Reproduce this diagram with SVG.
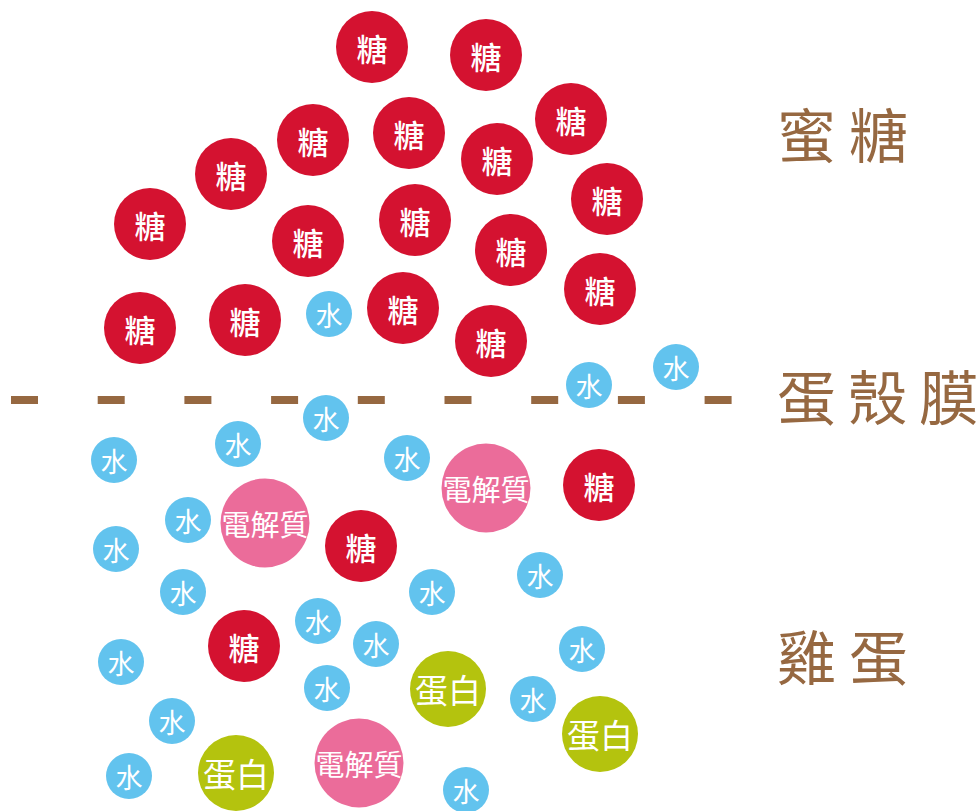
<svg xmlns="http://www.w3.org/2000/svg" width="979" height="811" viewBox="0 0 979 811">
<style>
.s{fill:#D41230}
.w{fill:#62C3EE}
.e{fill:#EB6C9A}
.p{fill:#B4C30E}
text{font-family:"Noto Sans CJK TC","Noto Sans CJK JP",sans-serif;fill:#fff;text-anchor:middle;dominant-baseline:central}
.ts{font-size:31px;font-weight:500}
.tw{font-size:27px}
.te{font-size:29px}
.tp{font-size:33px}
.lab{fill:#966841;font-size:59px;text-anchor:start}
</style>
<rect width="979" height="811" fill="#fff"/>
<g id="membrane"><line x1="11" y1="400" x2="732" y2="400" stroke="#966841" stroke-width="8" stroke-dasharray="27 59.7"/></g>
<g id="sugars-top">
<g id="s1"><circle class="s" cx="372" cy="47" r="36"/><text class="ts" x="372" y="47">糖</text></g>
<g id="s2"><circle class="s" cx="486" cy="55" r="36"/><text class="ts" x="486" y="55">糖</text></g>
<g id="s3"><circle class="s" cx="313" cy="140" r="36"/><text class="ts" x="313" y="140">糖</text></g>
<g id="s4"><circle class="s" cx="409" cy="133" r="36"/><text class="ts" x="409" y="133">糖</text></g>
<g id="s5"><circle class="s" cx="231" cy="174" r="36"/><text class="ts" x="231" y="174">糖</text></g>
<g id="s6"><circle class="s" cx="150" cy="224" r="36"/><text class="ts" x="150" y="224">糖</text></g>
<g id="s7"><circle class="s" cx="308" cy="241" r="36"/><text class="ts" x="308" y="241">糖</text></g>
<g id="s8"><circle class="s" cx="415" cy="220" r="36"/><text class="ts" x="415" y="220">糖</text></g>
<g id="s9"><circle class="s" cx="140" cy="328" r="36"/><text class="ts" x="140" y="328">糖</text></g>
<g id="s10"><circle class="s" cx="245" cy="320" r="36"/><text class="ts" x="245" y="320">糖</text></g>
<g id="s11"><circle class="s" cx="403" cy="308" r="36"/><text class="ts" x="403" y="308">糖</text></g>
<g id="s12"><circle class="s" cx="571" cy="119" r="36"/><text class="ts" x="571" y="119">糖</text></g>
<g id="s13"><circle class="s" cx="497" cy="159" r="36"/><text class="ts" x="497" y="159">糖</text></g>
<g id="s14"><circle class="s" cx="607" cy="199" r="36"/><text class="ts" x="607" y="199">糖</text></g>
<g id="s15"><circle class="s" cx="511" cy="250" r="36"/><text class="ts" x="511" y="250">糖</text></g>
<g id="s16"><circle class="s" cx="600" cy="289" r="36"/><text class="ts" x="600" y="289">糖</text></g>
<g id="s17"><circle class="s" cx="491" cy="341" r="36"/><text class="ts" x="491" y="341">糖</text></g>
</g>
<g id="water">
<g id="w1"><circle class="w" cx="329" cy="314" r="23"/><text class="tw" x="329" y="314">水</text></g>
<g id="w2"><circle class="w" cx="589" cy="385" r="23"/><text class="tw" x="589" y="385">水</text></g>
<g id="w3"><circle class="w" cx="676" cy="367" r="23"/><text class="tw" x="676" y="367">水</text></g>
<g id="w4"><circle class="w" cx="326" cy="418" r="23"/><text class="tw" x="326" y="418">水</text></g>
<g id="w5"><circle class="w" cx="238" cy="444" r="23"/><text class="tw" x="238" y="444">水</text></g>
<g id="w6"><circle class="w" cx="114" cy="460" r="23"/><text class="tw" x="114" y="460">水</text></g>
<g id="w7"><circle class="w" cx="407" cy="458" r="23"/><text class="tw" x="407" y="458">水</text></g>
<g id="w8"><circle class="w" cx="188" cy="520" r="23"/><text class="tw" x="188" y="520">水</text></g>
<g id="w9"><circle class="w" cx="116" cy="549" r="23"/><text class="tw" x="116" y="549">水</text></g>
<g id="w10"><circle class="w" cx="183" cy="592" r="23"/><text class="tw" x="183" y="592">水</text></g>
<g id="w11"><circle class="w" cx="432" cy="592" r="23"/><text class="tw" x="432" y="592">水</text></g>
<g id="w12"><circle class="w" cx="318" cy="621" r="23"/><text class="tw" x="318" y="621">水</text></g>
<g id="w13"><circle class="w" cx="376" cy="644" r="23"/><text class="tw" x="376" y="644">水</text></g>
<g id="w14"><circle class="w" cx="121" cy="662" r="23"/><text class="tw" x="121" y="662">水</text></g>
<g id="w15"><circle class="w" cx="327" cy="688" r="23"/><text class="tw" x="327" y="688">水</text></g>
<g id="w16"><circle class="w" cx="172" cy="721" r="23"/><text class="tw" x="172" y="721">水</text></g>
<g id="w17"><circle class="w" cx="129" cy="776" r="23"/><text class="tw" x="129" y="776">水</text></g>
<g id="w18"><circle class="w" cx="466" cy="790" r="23"/><text class="tw" x="466" y="790">水</text></g>
<g id="w19"><circle class="w" cx="540" cy="575" r="23"/><text class="tw" x="540" y="575">水</text></g>
<g id="w20"><circle class="w" cx="582" cy="649" r="23"/><text class="tw" x="582" y="649">水</text></g>
<g id="w21"><circle class="w" cx="533" cy="699" r="23"/><text class="tw" x="533" y="699">水</text></g>
</g>
<g id="electrolytes">
<g id="e1"><circle class="e" cx="265" cy="523" r="44.5"/><text class="te" x="265" y="523">電解質</text></g>
<g id="e2"><circle class="e" cx="486" cy="488" r="44.5"/><text class="te" x="486" y="488">電解質</text></g>
<g id="e3"><circle class="e" cx="359" cy="763" r="44.5"/><text class="te" x="359" y="763">電解質</text></g>
</g>
<g id="sugars-bottom">
<g id="s18"><circle class="s" cx="361" cy="546" r="36"/><text class="ts" x="361" y="546">糖</text></g>
<g id="s19"><circle class="s" cx="244" cy="646" r="36"/><text class="ts" x="244" y="646">糖</text></g>
<g id="s20"><circle class="s" cx="599" cy="485" r="36"/><text class="ts" x="599" y="485">糖</text></g>
</g>
<g id="proteins">
<g id="p1"><circle class="p" cx="448" cy="689" r="38"/><text class="tp" x="448" y="689">蛋白</text></g>
<g id="p2"><circle class="p" cx="236" cy="773" r="38"/><text class="tp" x="236" y="773">蛋白</text></g>
<g id="p3"><circle class="p" cx="600" cy="734" r="38"/><text class="tp" x="600" y="734">蛋白</text></g>
</g>
<g id="labels">
<text class="lab" x="777 849" y="132">蜜糖</text>
<text class="lab" x="777 848 919" y="394">蛋殼膜</text>
<text class="lab" x="777 849" y="654">雞蛋</text>
</g>
</svg>
